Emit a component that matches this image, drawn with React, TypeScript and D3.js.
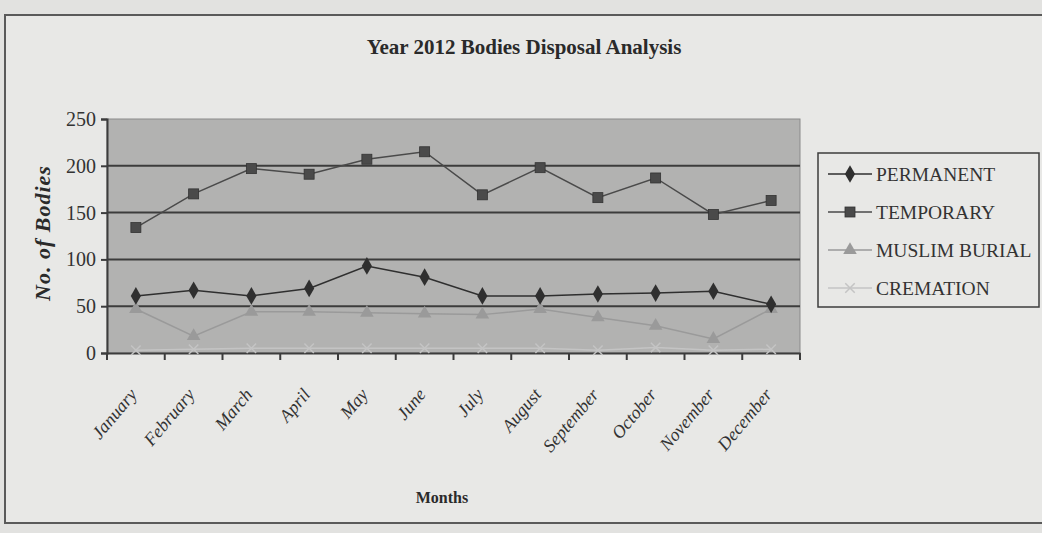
import React, { useEffect, useRef } from "react";
import * as d3 from "d3";

const months = ["January","February","March","April","May","June","July","August","September","October","November","December"];
const permanent = [61, 67, 61, 69, 93, 81, 61, 61, 63, 64, 66, 52];
const temporary = [134, 170, 197, 191, 207, 215, 169, 198, 166, 187, 148, 163];
const muslimBurial = [47, 18, 44, 44, 43, 42, 41, 47, 38, 29, 15, 47];
const cremation = [3, 4, 5, 5, 5, 5, 5, 5, 3, 6, 3, 4];
const yTicks = [0, 50, 100, 150, 200, 250];

const seriesNames = ["PERMANENT", "TEMPORARY", "MUSLIM BURIAL", "CREMATION"];
const seriesData = [permanent, temporary, muslimBurial, cremation];
const seriesColors = ["#2f2f2f", "#4a4a4a", "#9a9a9a", "#c4c4c4"];
const seriesMarkers = ["diamond", "square", "triangle", "cross"];

export default function App() {
  const ref = useRef<SVGSVGElement>(null);
  useEffect(() => {
    const svg = d3.select(ref.current);
    svg.selectAll("*").remove();
    const W = 1042, H = 533;
    const m = { left: 107, right: 800, top: 119, bottom: 353 };
    const font = "'Liberation Serif', 'Times New Roman', serif";

    svg.append("rect").attr("width", W).attr("height", H).attr("fill", "#e2e2e0");
    svg.append("rect").attr("x", 5).attr("y", 15).attr("width", 1045).attr("height", 508)
      .attr("fill", "#e8e8e6").attr("stroke", "#5a5a5a").attr("stroke-width", 2);

    const x = d3.scaleBand<string>().domain(months).range([m.left, m.right]);
    const y = d3.scaleLinear().domain([0, 250]).range([m.bottom, m.top]);

    svg.append("rect").attr("x", m.left).attr("y", m.top)
      .attr("width", m.right - m.left).attr("height", m.bottom - m.top)
      .attr("fill", "#b2b2b1").attr("stroke", "#8a8a8a").attr("stroke-width", 1);

    svg.append("g").selectAll("line").data(yTicks.filter(t => t > 0 && t < 250)).join("line")
      .attr("x1", m.left).attr("x2", m.right)
      .attr("y1", d => y(d)).attr("y2", d => y(d))
      .attr("stroke", "#3c3c3c").attr("stroke-width", 2);

    // y axis
    const yAxis = svg.append("g").attr("transform", `translate(${m.left},0)`)
      .call(d3.axisLeft(y).tickValues(yTicks).tickSize(6).tickPadding(5));
    yAxis.select(".domain").attr("stroke", "#3c3c3c").attr("stroke-width", 2);
    yAxis.selectAll(".tick line").attr("stroke", "#3c3c3c").attr("stroke-width", 2);
    yAxis.selectAll("text").attr("font-family", font).attr("font-size", 20).attr("fill", "#333");

    // x axis
    const xAxis = svg.append("g").attr("transform", `translate(0,${m.bottom})`)
      .call(d3.axisBottom(x).tickSize(0).tickFormat(() => ""));
    xAxis.select(".domain").attr("stroke", "#3c3c3c").attr("stroke-width", 2);
    const edges = d3.range(months.length + 1).map(i => m.left + i * x.step());
    svg.append("g").selectAll("line").data(edges).join("line")
      .attr("x1", d => d).attr("x2", d => d)
      .attr("y1", m.bottom).attr("y2", m.bottom + 7)
      .attr("stroke", "#3c3c3c").attr("stroke-width", 2);
    svg.append("g").selectAll("text").data(months).join("text")
      .attr("transform", d => `translate(${(x(d) as number) + x.bandwidth() / 2 + 2},${m.bottom + 42}) rotate(-50)`)
      .attr("text-anchor", "end")
      .attr("font-family", font).attr("font-style", "italic").attr("font-size", 18).attr("fill", "#333")
      .text(d => d);

    const cx = (i: number) => (x(months[i]) as number) + x.bandwidth() / 2;

    const drawMarker = (g: any, type: string, px: number, py: number, color: string) => {
      if (type === "diamond") {
        g.append("path").attr("d", d3.symbol(d3.symbolDiamond, 90)()).attr("transform", `translate(${px},${py})`).attr("fill", color);
      } else if (type === "square") {
        g.append("rect").attr("x", px - 5).attr("y", py - 5).attr("width", 10).attr("height", 10).attr("fill", color).attr("stroke", "#333").attr("stroke-width", 0.8);
      } else if (type === "triangle") {
        g.append("path").attr("d", d3.symbol(d3.symbolTriangle, 80)()).attr("transform", `translate(${px},${py})`).attr("fill", color);
      } else {
        g.append("path").attr("d", d3.symbol(d3.symbolX, 60)()).attr("transform", `translate(${px},${py})`).attr("fill", "none").attr("stroke", color).attr("stroke-width", 1.5);
      }
    };

    const line = d3.line<number>().x((_, i) => cx(i)).y(d => y(d));
    [3, 2, 0, 1].forEach(s => {
      const g = svg.append("g");
      g.append("path").datum(seriesData[s]).attr("d", line).attr("fill", "none")
        .attr("stroke", seriesColors[s]).attr("stroke-width", 1.5);
      seriesData[s].forEach((v, i) => drawMarker(g, seriesMarkers[s], cx(i), y(v), seriesColors[s]));
    });

    // titles
    svg.append("text").attr("x", 524).attr("y", 54).attr("text-anchor", "middle")
      .attr("font-family", font).attr("font-weight", "bold").attr("font-size", 21).attr("fill", "#2a2a2a")
      .text("Year 2012 Bodies Disposal Analysis");
    svg.append("text").attr("transform", `translate(50,233) rotate(-90)`)
      .attr("text-anchor", "middle").attr("font-family", font).attr("font-weight", "bold").attr("font-style", "italic")
      .attr("font-size", 22).attr("fill", "#2a2a2a").attr("letter-spacing", 1).text("No. of Bodies");
    svg.append("text").attr("x", 442).attr("y", 503).attr("text-anchor", "middle")
      .attr("font-family", font).attr("font-weight", "bold").attr("font-size", 16).attr("fill", "#2a2a2a")
      .text("Months");

    // legend
    const lg = svg.append("g");
    lg.append("rect").attr("x", 818).attr("y", 153).attr("width", 221).attr("height", 154)
      .attr("fill", "#e8e8e6").attr("stroke", "#3c3c3c").attr("stroke-width", 1.5);
    seriesNames.forEach((n, i) => {
      const ly = 174 + i * 38;
      lg.append("line").attr("x1", 828).attr("x2", 872).attr("y1", ly).attr("y2", ly)
        .attr("stroke", seriesColors[i]).attr("stroke-width", 1.5);
      drawMarker(lg, seriesMarkers[i], 850, ly, seriesColors[i]);
      lg.append("text").attr("x", 876).attr("y", ly + 7).attr("font-family", font)
        .attr("font-size", 19.5).attr("fill", "#333").text(n);
    });
  }, []);
  return <svg ref={ref} width={1042} height={533} style={{ display: "block", position: "absolute", left: 0, top: 0 }} />;
}
